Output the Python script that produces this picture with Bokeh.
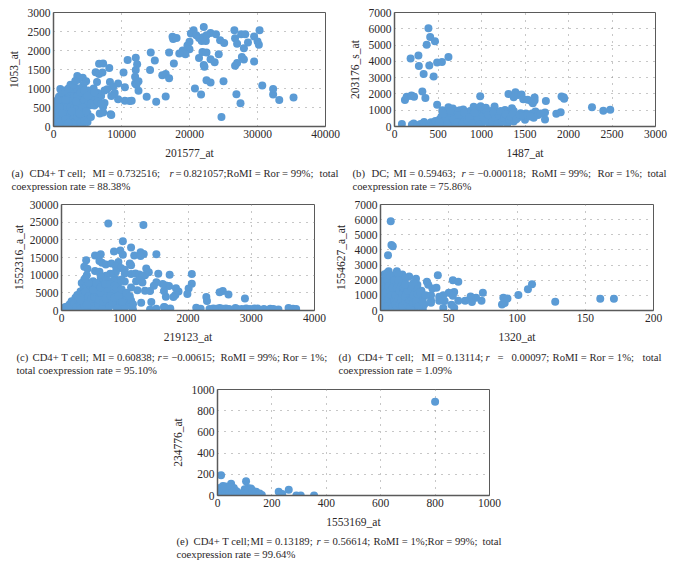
from bokeh.plotting import figure
from bokeh.layouts import column, row
from bokeh.core.properties import value
from bokeh.models import FixedTicker, Range1d, Spacer
from bokeh.embed import file_html
from bokeh.resources import INLINE

BLUE = "#5B9BD5"
INK = "#2b2728"
FRAME = "#5a5a5a"
SERIF = "Liberation Serif"

a_points = [(35300,760),(33200,700),(32300,840),(32300,990),(30700,1080),(27500,610),(26900,850),(24700,250),(25000,1190),(23100,1160),(22500,1220),(21700,840),(20800,1000),
(30300,2530),(26600,2530),(22100,2620),(20600,2530),(20200,2450),(23100,2460),(23900,2430),(27600,2430),(28200,2430),(29500,2370),(26700,2320),(30000,2240),(30200,2150),(28600,2210),(27000,2180),(28000,2060),(24500,2270),(25100,2200),(24300,1900),(27700,1830),(28000,1760),(29500,1710),(27000,1670),(26700,1600),(23100,1770),(23700,1690),(22100,1620),(22200,1570),(21400,1800),(21900,1960),(22500,1950),(21000,2400),(21400,2330),(21800,2250),(22400,2250),(22000,2350),(22500,2400),(20000,2230),(19700,2130),(20000,2030),(19000,2000),(19400,1900),(18500,1920),(17700,1660),(17000,1950),(17500,2360),(17600,2300),(18100,2330),
(14300,1950),(14900,1740),(14200,1490),(16000,1350),(16500,1380),(17000,1270),(16500,790),(15100,650),(13700,780),
(12100,1810),(10900,1750),(12300,1640),(12100,1490),(10300,1420),(12000,1310),(12000,1130),(12500,1190),(12200,1100),(12500,940),(10500,1030),(10500,680),(11200,670),(11500,680),
(9500,1130),(8200,1540),(6700,1650),(7300,1660),(6200,1430),(6700,1380),(7200,1420),(6400,1170),(8300,1170),(8800,1050),(9000,880),(9500,720),(8500,800),(7500,950),(7900,980),(8400,320),(8500,300),(6800,340),(7300,370),(7300,520),(7500,620),(7000,800),(6500,880),(5900,1000),(5000,930),
(3500,1330),(4300,1280),(3600,1240),(4800,1190),(2500,1100),(3100,1020),(1000,990),(800,780),(4400,1100),(3400,900),(2600,900),(4100,1000),(4000,800),
(100,150),(200,250),(300,100),(400,350),(500,200),(600,450),(700,50),(800,300),(900,550),(1000,150),(1100,400),(1200,700),(1300,0),(1400,250),(1500,500),(1600,800),(1700,100),(1800,350),(1900,600),(2000,900),(2100,200),(2200,450),(2300,700),(2400,50),(2500,300),(2600,550),(2700,800),(2800,150),(2900,400),(3000,650),(3100,900),(3200,250),(3300,500),(3400,750),(3500,100),(3600,350),(3700,600),(3800,1000),(3900,200),(4000,450),(4100,700),(4200,900),(4400,100),(4500,300),(4600,550),(4700,800),(4900,250),(5000,650),(5100,950),(5300,550),(5400,750),(5700,650),(5900,800),(6100,700),(6300,600),(6600,760),(300,450),(500,650),(150,520),(2000,30),(3000,60),
(600,100),(1000,500),(1500,200),(1500,700),(2000,500),(2000,700),(2500,150),(2500,500),(2500,750),(3000,100),(3000,300),(3000,500),(3000,800),(3500,250),(3500,500),(3500,800),(3500,1000),(4000,100),(4000,300),(4000,600),(4000,900),(4500,150),(4500,450),(4500,700),(4500,950),(5000,120),(5000,350),(5000,550),(5000,800),(5500,250),(5500,600),(6000,550),(6000,900),(6500,650),(7000,600),(800,100),(1300,350),(1800,700),(1800,200),(2200,100),(2700,400),(3300,650),(3800,350),(4300,500),(4800,400),(1200,900),(1700,950),(2200,1000),(2900,1100),(3200,1200),(600,700)]

b_points = [(390,6030),(410,5500),(370,5020),(465,5230),(185,4170),(275,4360),(280,3720),(400,3740),(335,3230),(450,3070),(490,3930),(545,3960),(620,4270),(320,2150),(355,1750),(120,1620),(140,1830),(195,1900),(200,1880),(225,1830),(490,1340),(985,1850),(1310,1990),(1390,2100),(1370,1800),(1420,1930),(1460,1970),(1480,1680),(1530,1650),(1570,1560),(1590,1420),(1610,1780),(1610,1600),(1740,1560),(1920,1840),(1945,1800),(1950,1700),(2270,1180),(2400,970),(2480,1030),(1860,780),(1910,880),(1730,430),(1730,860),(1620,920),(1580,800),(1600,530),(1510,800),(1500,420),(85,150),
(200,100),(220,180),(260,80),(300,150),(330,40),(340,280),(370,120),(400,60),(420,260),(450,170),(470,340),(500,80),(520,450),(540,620),(550,1000),(570,200),(590,800),(600,350),(620,1180),(640,90),(650,560),(670,1100),(690,300),(710,850),(730,70),(750,1000),(770,470),(790,1050),(810,200),(830,30),(850,700),(870,950),(890,380),(910,1220),(930,120),(950,620),(970,1000),(990,1250),(1010,280),(1030,800),(1050,1150),(1070,480),(1090,120),(1110,950),(1130,650),(1150,1230),(1170,300),(1190,850),(1210,110),(1230,560),(1250,750),(1270,1020),(1290,250),(1310,650),(1330,880),(1350,1120),(1370,300),(1390,650),(1420,560),(1450,820),(1370,950),(540,150),(600,600),(700,600),(800,500),(900,700),(1000,500),(1100,500),(1200,400),(1300,450),(650,850),(580,400),(880,120),(1000,80),(1150,150),(720,950),
(520,250),(560,800),(610,100),(640,950),(680,450),(720,250),(740,700),(780,150),(800,850),(840,350),(860,550),(900,200),(920,850),(960,400),(980,150),(1020,650),(1040,350),(1060,900),(1080,700),(1120,300),(1140,850),(1160,500),(1180,150),(1200,650),(1220,950),(1240,300),(1260,500),(1280,750),(1300,200),(1320,400),(1340,600),(1360,780),(1400,450),(1440,700),(1480,650),(1530,700),(1560,620),(1650,700),(1680,800)]

c_points = [(740,24600),(1295,24200),(970,19600),(1100,17800),(930,17000),(830,16700),(970,15800),(1150,15600),(1250,16500),(1300,16000),(1250,15400),(1500,15900),(530,15600),(620,15900),(390,14200),(600,14000),(640,13500),(700,13000),(790,13300),(900,13700),(1080,13300),(1100,12800),(360,12400),(410,11800),(530,11200),(600,11000),(1340,11900),(1380,10800),(1320,10000),(1530,10400),(1710,10100),(2060,10300),(2060,7600),(2010,6200),(1990,4700),(1850,5400),(1810,6300),(1800,4400),(1770,3800),(1650,3900),(1700,6900),(1650,7100),(1600,7500),(1500,8000),(1460,7000),(1620,5500),(2550,5500),(2500,5200),(2640,4500),(2290,3800),(2300,2700),(2900,3400),(1260,2200),(1420,2400),(1400,300),(1500,500),(1630,900),(1720,600),(1700,200),(2130,800),(2200,500),
(2340,400),(2400,600),(2450,500),(2500,700),(2550,500),(2600,550),(2650,400),(2750,700),(2780,450),(2850,400),(2920,550),(2980,450),(3050,550),(3100,600),(3200,400),(3300,500),(3350,450),(3430,300),(3590,700),(3660,500),(3710,450),(1620,1000),
(860,12500),(940,12000),(1000,11500),(860,11000),(1000,10500),(770,10400),(700,9800),(620,9500),(400,10000),(1100,10300),(1170,10500),(1230,10200),(1280,9800),(1180,8300),(1230,8600),(1280,7900),(1100,6500),(1200,5700),(1320,5600),(1400,5500),(850,9000),(950,8800),(1000,8200),(900,7800),(820,8400),(720,8500),(600,8000),(500,8300),(360,8800),(320,7800),
(20,500),(60,1000),(100,300),(130,1800),(160,2600),(190,700),(220,3600),(250,4400),(280,200),(300,5400),(320,2000),(350,6300),(380,3500),(400,7000),(420,1000),(450,5800),(480,4500),(500,6800),(530,2500),(560,200),(590,6000),(620,3800),(650,7200),(680,1600),(710,5000),(740,300),(770,6500),(800,3000),(830,4600),(860,1200),(890,5600),(920,200),(950,3400),(980,4800),(1010,2200),(1040,3600),(1070,1400),(1100,2800),(1130,300),(1130,1800),(750,2500),(600,1200),(500,800),(400,300),(300,1200),(200,200),(450,2700),(350,4700),(680,4300),(560,4600),(800,5300),(900,2200),(950,1300),(1000,600),
(100,1200),(160,800),(200,2000),(240,1000),(270,2800),(300,400),(320,3600),(360,1500),(380,5300),(420,2300),(430,4000),(460,1500),(470,3300),(520,500),(520,3800),(540,5400),(580,1700),(600,3000),(620,5000),(650,600),(660,2400),(700,3400),(720,6200),(760,1300),(780,4000),(810,2000),(840,3600),(880,600),(900,4200),(960,2400),(300,2900),(400,1600),(500,5800),(550,7700),(620,6600),(430,7800),(380,9100),(690,7500),(770,7400),(840,7000),(870,6400),(950,6000),(1030,5000),(1080,4000)]

d_points = [(7.5,5900),(8,4330),(9,4250),(5.5,3650),(42,2320),(53,2000),(57,1900),(111,1730),(108,1400),(101,1020),(128,570),(161,770),(171,770),(89,400),(91,500),(90,850),(93,800),(75,1170),(74,650),(70,850),(66,920),(67,560),(62,650),(57,650),(54,1220),(50,1180),(53,980),(52,380),(54,180),(46,170),(47,620),(46,1000),(43,900),(43,650),(37,520),(37,680),(37,1000),(41,1500),(38,1450),(35,1700),(34,1900),(21,2250),(26,2100),(16,2380),(12,2600),(6,2600),(27,1700),(31,100),(25,200),
(1,500),(1,1300),(2,2000),(2,200),(3,900),(3,2400),(4,1600),(4,50),(5,2500),(5,700),(6,1200),(7,300),(7,2000),(8,1700),(9,800),(9,2300),(10,100),(10,1300),(11,2100),(12,500),(13,1500),(13,2400),(14,1000),(15,200),(15,1900),(16,700),(17,2000),(18,1300),(19,300),(19,1700),(20,900),(21,1500),(22,500),(23,1200),(24,200),(24,1800),(25,800),(26,1400),(27,400),(28,1100),(29,700),(30,1300),(31,800),(32,400),(18,2100),(12,1000),(17,100),(10,1700),(6,100),(22,1000),
(2,1000),(2,1500),(3,500),(3,1900),(4,1200),(5,300),(5,2000),(6,800),(6,1600),(7,1300),(7,2300),(8,500),(8,1000),(9,1500),(9,200),(10,700),(10,2000),(11,1000),(11,400),(12,1500),(12,200),(13,800),(13,2000),(14,400),(14,1300),(15,1600),(15,700),(16,1100),(16,300),(17,1500),(18,600),(18,900),(19,1100),(20,400),(20,1300),(21,700),(22,200),(22,1600),(23,800),(24,1000),(24,500),(26,600),(27,1100),(28,300),(29,1200),(33,1000),(18,1700),(31,550)]

e_points = [(800,885),(13,190),(105,135),(50,110),(20,90),(30,85),(123,65),(100,60),(225,35),(238,15),(262,55),(290,0),(306,0),(355,0),
(3,10),(5,40),(8,70),(12,20),(16,60),(22,0),(27,40),(35,15),(40,60),(45,25),(52,80),(58,5),(62,50),(68,30),(75,15),(80,5),(88,0),(95,20),(102,35),(108,5),(112,70),(118,40),(125,10),(132,30),(138,0),(145,20),(152,10),(160,0),(163,5),(70,40),(60,70),(130,5),
(6,25),(10,50),(14,5),(18,30),(24,70),(30,30),(33,60),(38,5),(42,40),(48,75),(55,35),(65,15),(72,10),(85,15),(92,5),(98,40),(105,55),(110,25),(115,50),(121,20),(128,50),(135,15),(142,35),(148,5),(155,20)]

caption_a = [("(a)", 11, 172, "normal"), ("CD4+ T cell;", 29, 172, "normal"), ("MI = 0.732516;", 92, 172, "normal"), ("r", 169, 172, "italic"), ("=", 175, 172, "normal"), ("0.821057;", 183, 172, "normal"), ("RoMI = Ror = 99%;", 226, 172, "normal"), ("total", 319, 172, "normal"), ("coexpression rate = 88.38%", 11, 185, "normal")]
caption_b = [("(b)", 352, 172, "normal"), ("DC;", 371, 172, "normal"), ("MI = 0.59463;", 393, 172, "normal"), ("r", 461, 172, "italic"), ("= −0.000118;", 468, 172, "normal"), ("RoMI = 99%;", 531, 172, "normal"), ("Ror = 1%;", 597, 172, "normal"), ("total", 647, 172, "normal"), ("coexpression rate = 75.86%", 352, 185, "normal")]
caption_c = [("(c)", 16, 356, "normal"), ("CD4+ T cell;", 32, 356, "normal"), ("MI = 0.60838;", 92, 356, "normal"), ("r", 157, 356, "italic"), ("= −0.00615;", 162, 356, "normal"), ("RoMI = 99%;", 220, 356, "normal"), ("Ror = 1%;", 282, 356, "normal"), ("total coexpression rate = 95.10%", 16, 369, "normal")]
caption_d = [("(d)", 338, 356, "normal"), ("CD4+ T cell;", 357, 356, "normal"), ("MI = 0.13114;", 421, 356, "normal"), ("r", 485, 356, "italic"), ("=", 497, 356, "normal"), ("0.00097;", 511, 356, "normal"), ("RoMI = Ror = 1%;", 552, 356, "normal"), ("total", 642, 356, "normal"), ("coexpression rate = 1.09%", 338, 369, "normal")]
caption_e = [("(e)", 176, 540, "normal"), ("CD4+ T cell;", 193, 540, "normal"), ("MI = 0.13189;", 250, 540, "normal"), ("r", 316, 540, "italic"), ("=", 323, 540, "normal"), ("0.56614;", 332, 540, "normal"), ("RoMI = 1%;", 373, 540, "normal"), ("Ror = 99%;", 427, 540, "normal"), ("total", 482, 540, "normal"), ("coexpression rate = 99.64%", 176, 553, "normal")]


def chart(points, xmax, xstep, ymax, ystep, xlabel, ylabel, box, frame, ylabel_gap=5):
    ox, oy, w, h = box
    fl, ft, fw, fh = frame
    p = figure(width=w, height=h, output_backend="svg", toolbar_location=None,
               x_range=Range1d(0, xmax), y_range=Range1d(0, ymax),
               min_border_left=fl - ox, min_border_right=ox + w - fl - fw,
               min_border_top=ft - oy, min_border_bottom=oy + h - ft - fh)
    p.scatter([q[0] for q in points], [q[1] for q in points], size=8, marker="circle",
              fill_color=BLUE, line_color=BLUE, line_width=0)
    p.xaxis.ticker = FixedTicker(ticks=list(range(0, xmax + 1, xstep)))
    p.yaxis.ticker = FixedTicker(ticks=list(range(0, ymax + 1, ystep)))
    for ax in (p.xaxis[0], p.yaxis[0]):
        ax.major_tick_out = 0
        ax.major_tick_in = 0
        ax.minor_tick_out = 0
        ax.minor_tick_in = 0
        ax.axis_line_color = FRAME
        ax.axis_line_width = 1.5
        ax.major_label_text_font = SERIF
        ax.major_label_text_font_size = "11.5px"
        ax.major_label_text_color = INK
        ax.axis_label_text_font = SERIF
        ax.axis_label_text_font_size = "11.5px"
        ax.axis_label_text_font_style = "normal"
        ax.axis_label_text_color = INK
        ax.major_label_standoff = 3
        ax.formatter.use_scientific = False
    p.xaxis.axis_label = xlabel
    p.yaxis.axis_label = ylabel
    p.xaxis.axis_label_standoff = 6
    p.yaxis.axis_label_standoff = ylabel_gap
    p.grid.grid_line_color = "#8f8f8f"
    p.grid.grid_line_dash = "1 6"
    p.grid.grid_line_width = 1
    p.outline_line_color = FRAME
    p.outline_line_width = 1
    return p


def caption_strip(captions, top, h):
    p = figure(width=673, height=h, output_backend="svg", toolbar_location=None,
               x_range=Range1d(0, 673), y_range=Range1d(top + h, top),
               min_border_left=0, min_border_right=0, min_border_top=0, min_border_bottom=0)
    p.axis.visible = False
    p.grid.visible = False
    p.outline_line_color = None
    for caption in captions:
        for text, x, y, style in caption:
            p.text([x], [y], text=[text], text_font=value(SERIF), text_font_size="10.7px",
                   text_color=INK, text_font_style=style, text_baseline="middle", text_align="left")
    return p


fig_a = chart(a_points, 40000, 10000, 3000, 500, "201577_at", "1053_at",
              (0, 0, 345, 164), (53, 12, 272, 115))
fig_b = chart(b_points, 3000, 500, 7000, 1000, "1487_at", "203176_s_at",
              (345, 0, 328, 164), (392, 11, 263, 115))
fig_c = chart(c_points, 4000, 1000, 30000, 5000, "219123_at", "1552316_a_at",
              (0, 194, 331, 154), (61, 204, 253, 106), ylabel_gap=2)
fig_d = chart(d_points, 200, 50, 7000, 1000, "1320_at", "1554627_a_at",
              (331, 194, 342, 154), (379, 203, 274, 107))
fig_e = chart(e_points, 1000, 200, 1000, 200, "1553169_at", "234776_at",
              (168, 376, 345, 157), (216, 389, 273, 106))

strip_1 = caption_strip([caption_a, caption_b], 164, 30)
strip_2 = caption_strip([caption_c, caption_d], 348, 28)
strip_3 = caption_strip([caption_e], 533, 28)

page = column(row(fig_a, fig_b), strip_1, row(fig_c, fig_d), strip_2,
              row(Spacer(width=168, height=157), fig_e), strip_3)
open("out.html", "w").write(file_html(page, INLINE))
